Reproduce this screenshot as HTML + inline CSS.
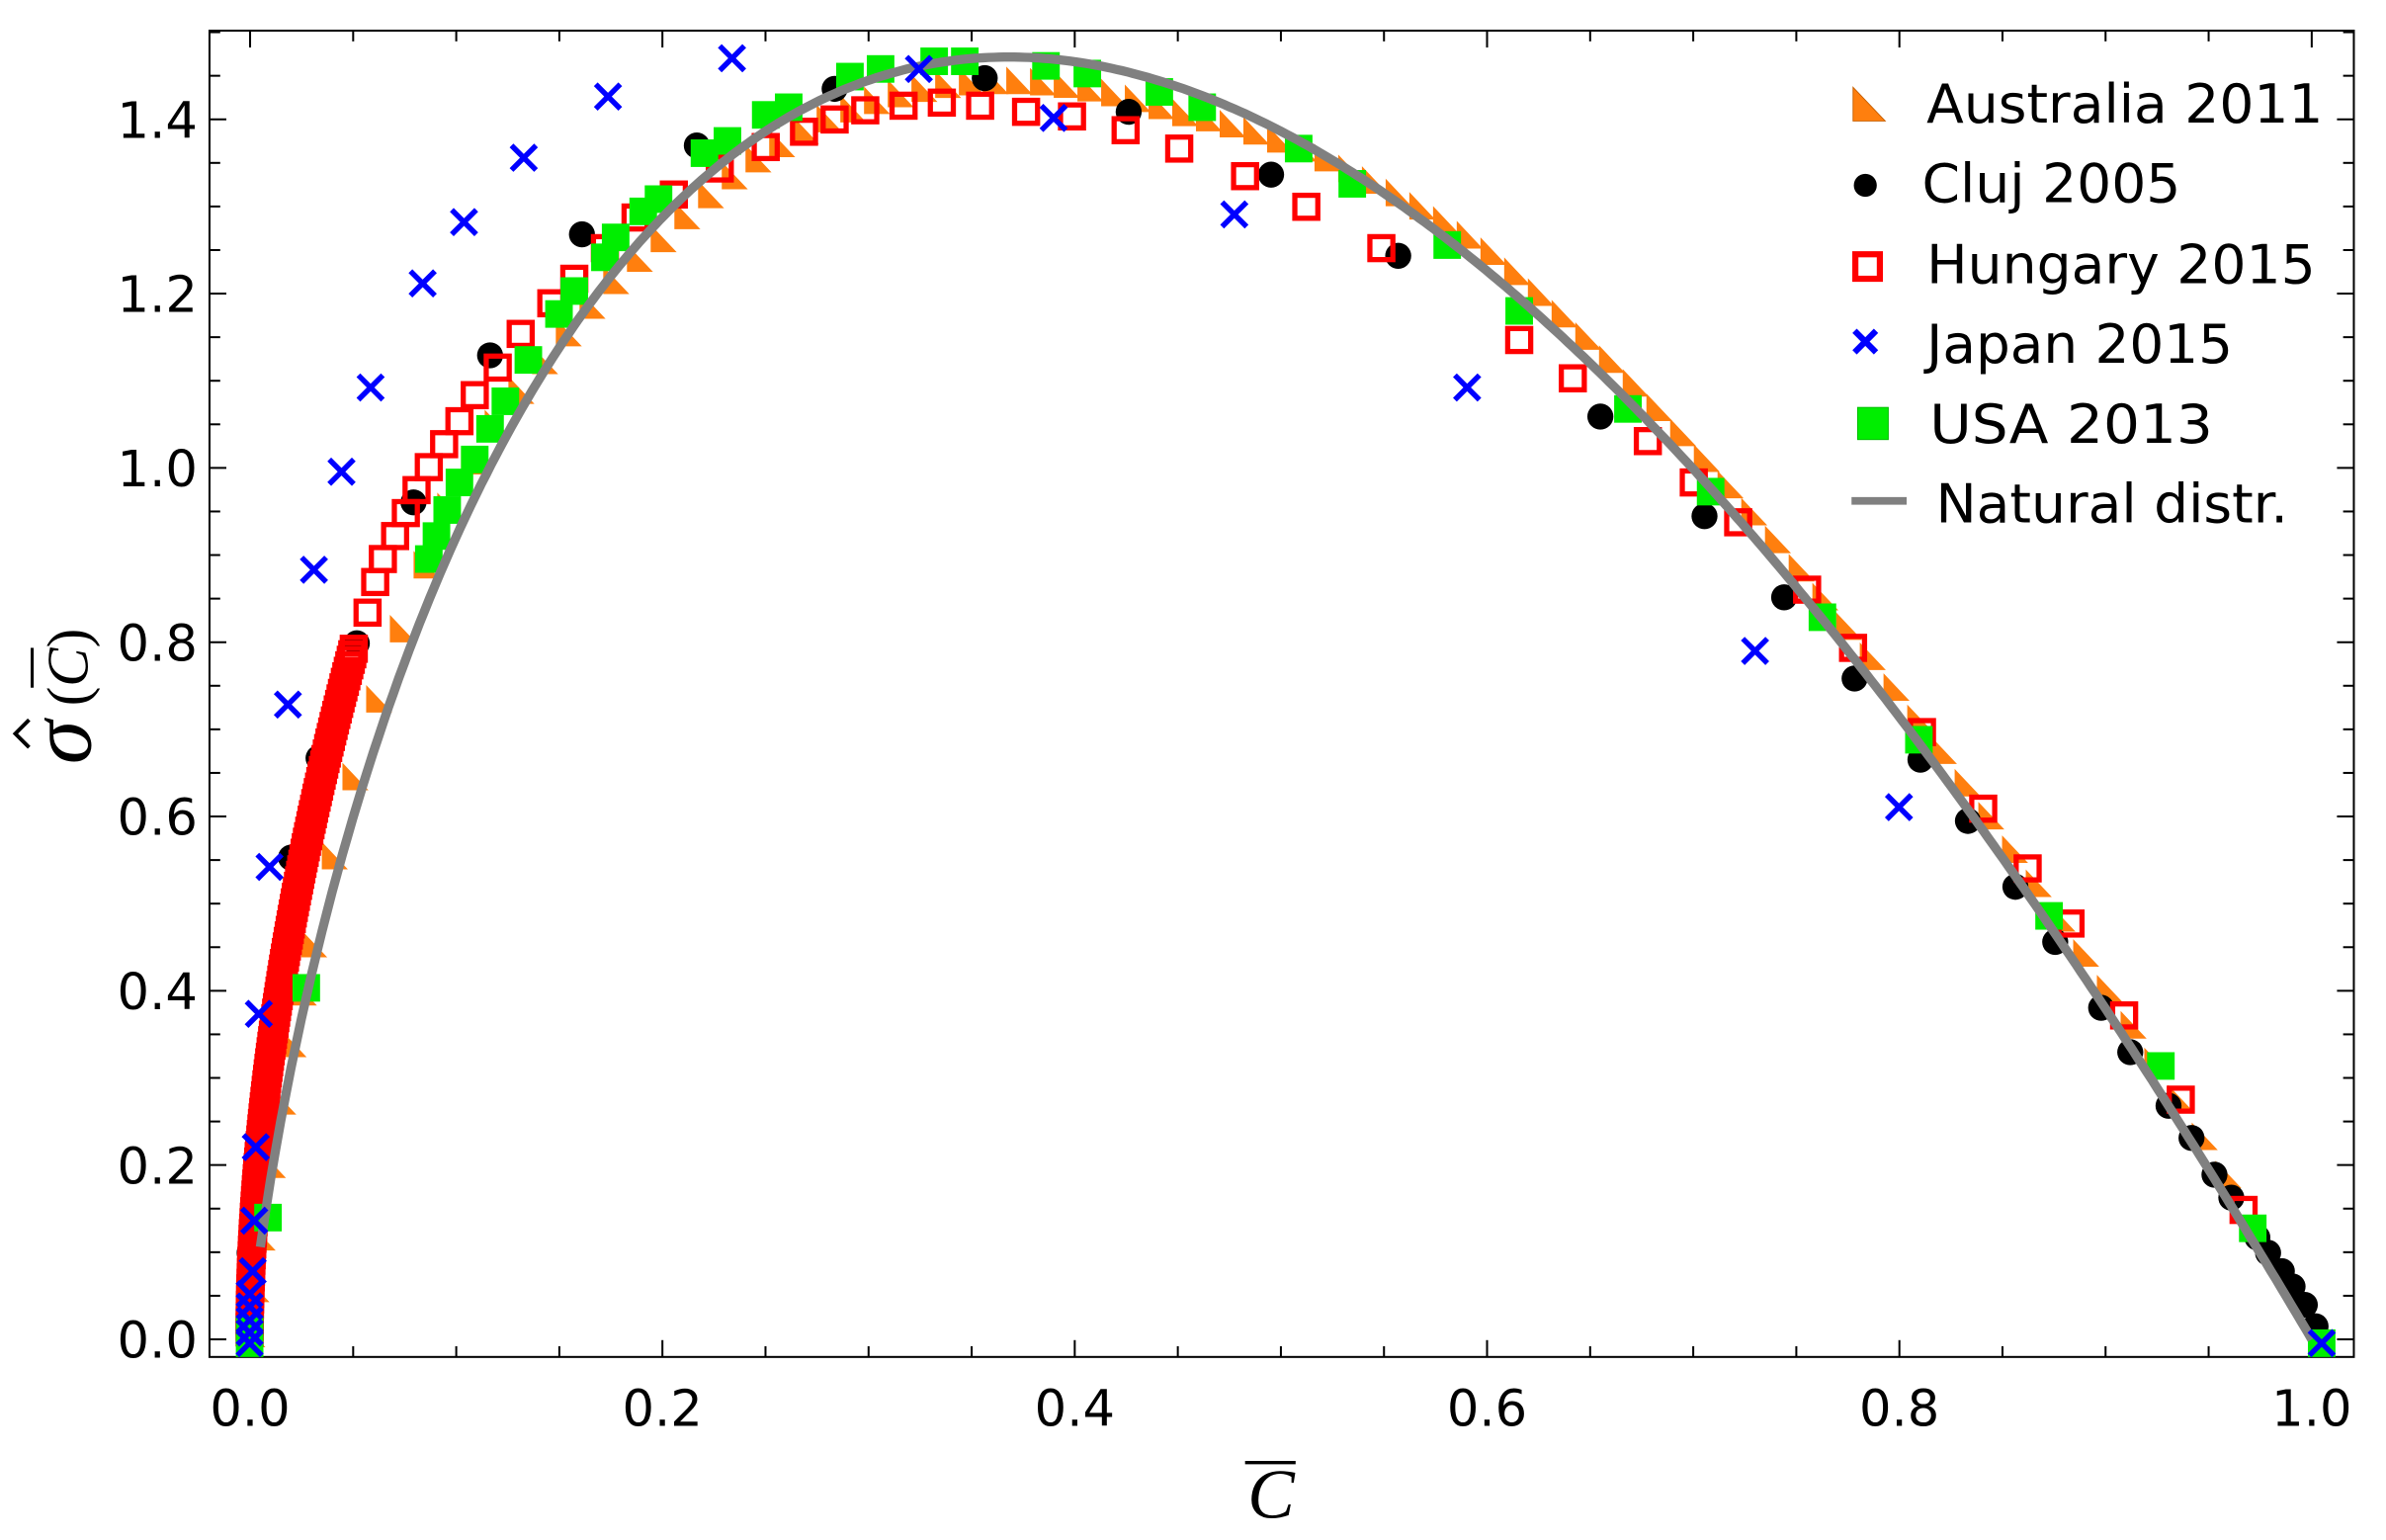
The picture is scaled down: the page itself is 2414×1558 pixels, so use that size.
<!DOCTYPE html>
<html><head><meta charset="utf-8">
<style>html,body{margin:0;padding:0;background:#fff;overflow:hidden}svg{display:block}</style>
</head><body>
<svg id="s" xmlns="http://www.w3.org/2000/svg" width="2414" height="1558" viewBox="0 0 1558 1005.5">
<rect width="1558" height="1005.5" fill="#fff"/>
<g id="ax" stroke="#000" stroke-width="1.3" fill="none"></g>
<g id="data"></g>
<g font-family="'DejaVu Sans','Liberation Sans',sans-serif" font-size="33" fill="#000">
<g text-anchor="end" id="yl"></g>
<g text-anchor="middle" id="xl"></g>
</g>
<text x="830" y="991" font-family="'Liberation Serif',serif" font-style="italic" font-size="46" text-anchor="middle">C</text>
<line x1="813" y1="955" x2="846" y2="955" stroke="#000" stroke-width="2.2"/>
<g transform="translate(59,455) rotate(-90)" font-family="'Liberation Serif',serif">
<text x="-44" y="0" font-style="italic" font-size="58">σ</text>
<polyline points="-33,-40 -24,-49 -15,-40" fill="none" stroke="#000" stroke-width="2.5"/>
<text x="-6" y="-2" font-size="38">(<tspan font-style="italic">C</tspan>)</text>
<line x1="6" y1="-38" x2="32" y2="-38" stroke="#000" stroke-width="2"/>
</g>
<g font-family="'DejaVu Sans','Liberation Sans',sans-serif" font-size="35" fill="#000">
<text x="1258" y="80" textLength="259" lengthAdjust="spacingAndGlyphs">Australia 2011</text>
<text x="1255" y="132" textLength="169" lengthAdjust="spacingAndGlyphs">Cluj 2005</text>
<text x="1258" y="185" textLength="254" lengthAdjust="spacingAndGlyphs">Hungary 2015</text>
<text x="1258" y="237" textLength="200" lengthAdjust="spacingAndGlyphs">Japan 2015</text>
<text x="1260" y="289" textLength="185" lengthAdjust="spacingAndGlyphs">USA 2013</text>
<text x="1264" y="341" textLength="230" lengthAdjust="spacingAndGlyphs">Natural distr.</text>
</g>
<g>
<polygon points="1210,57 1210,79 1231,79" fill="#ff7f0e" stroke="#c65f00" stroke-width="0.6"/>
<circle cx="1218" cy="121" r="7.5" fill="#000"/>
<rect x="1211.5" y="166" width="16" height="16" fill="none" stroke="#f00" stroke-width="4"/>
<g stroke="#00f" stroke-width="4"><line x1="1211" y1="216" x2="1225" y2="230"/><line x1="1225" y1="216" x2="1211" y2="230"/></g>
<rect x="1213" y="266" width="20" height="21" fill="#0e0" stroke="#0b0" stroke-width="0.6"/>
<line x1="1209" y1="327" x2="1245" y2="327" stroke="#808080" stroke-width="5"/>
</g>
</svg>
<script>
const NS="http://www.w3.org/2000/svg";
const X=c=>163.3+1346.2*c, Y=s=>874.5-569*s;
const L=136.8,R=1537,T=20,B=886;
const ax=document.getElementById('ax'),dg=document.getElementById('data');
function el(p,tag,a){const e=document.createElementNS(NS,tag);for(const k in a)e.setAttribute(k,a[k]);p.appendChild(e);return e;}
el(ax,'rect',{x:L,y:T,width:R-L,height:B-T});
for(let i=0;i<=20;i++){const c=i*0.05,x=X(c),len=i%4==0?11:7;
 el(ax,'line',{x1:x,y1:B,x2:x,y2:B-len});el(ax,'line',{x1:x,y1:T,x2:x,y2:T+len});}
for(let i=0;i<=30;i++){const s=i*0.05,y=Y(s);if(y<T)break;const len=i%4==0?11:7;
 el(ax,'line',{x1:L,y1:y,x2:L+len,y2:y});el(ax,'line',{x1:R,y1:y,x2:R-len,y2:y});}
const yl=document.getElementById('yl'),xl=document.getElementById('xl');
for(let i=0;i<=7;i++){const t=el(yl,'text',{x:129,y:Y(i*0.2)+12});t.textContent=(i*0.2).toFixed(1);}
for(let i=0;i<=5;i++){const t=el(xl,'text',{x:X(i*0.2),y:931});t.textContent=(i*0.2).toFixed(1);}
const f=c=>c<=0?0:-4*c*Math.log(c);
// Australia triangles
const kn=[[0,0],[0.02,0.02],[0.05,0.04],[0.1,0.05],[0.15,0],[0.2,-0.03],[0.45,-0.035],[0.6,0.02],[1,0.02]];
const dl=c=>{for(let i=1;i<kn.length;i++){if(c<=kn[i][0]){const [a,b]=kn[i-1],[p,q]=kn[i];return b+(q-b)*(c-a)/(p-a);}}return 0.02;};
const aus=c=>f(c)+dl(c);
let cs=[0,0.002,0.005,0.01,0.015,0.02,0.025,0.03,0.04];for(let c=0.05;c<0.965;c+=0.0115)cs.push(c);
for(const c of cs){const x=X(c),y=Y(aus(c)+0.005);el(dg,'polygon',{points:`${x-7},${y-10} ${x-7},${y+8} ${x+10},${y+8}`,fill:'#ff7f0e'});}
// Cluj
const cl=[[163,818],[190,560],[208,495],[233,420],[270,328],[320,232],[380,153],[455,95],[545,58],[643,51],[737,73],[830,114],[913,167],[1045,272],[1113,337],[1165,390],[1211,443],[1254,496],[1285,536],[1316,579],[1342,615],[1372,658],[1391,687],[1416,722],[1431,743],[1446,767],[1457,782],[1474,808],[1481,818],[1490,830],[1497,840],[1505,852],[1512,866]];
for(const p of cl)el(dg,'circle',{cx:p[0],cy:p[1],r:8.5,fill:'#000'});
// Hungary
const hu=[];
for(let t=0;t<=1;t+=0.008){hu.push([163+69*Math.pow(t,1.8),870-t*450]);}
hu.push(...[[240,400],[245,380],[250,365],[258,350],[265,335],[272,320],[280,305],[290,290],[300,275],[310,258],[325,240],[340,218],[360,198],[375,182],[395,162],[415,142],[440,127],[470,110],[500,96],[525,86],[545,78],[565,72],[590,69],[615,67],[640,69],[670,73],[700,76],[735,85],[770,97],[813,115],[853,135],[902,162],[992,222],[1027,247],[1076,288],[1106,315],[1135,341],[1180,385],[1210,423],[1255,478],[1295,528],[1324,567],[1352,603],[1387,663],[1424,718],[1465,790]]);
for(const p of hu)el(dg,'rect',{x:p[0]-7.5,y:p[1]-7.5,width:15,height:15,fill:'none',stroke:'#f00','stroke-width':3.4});
// USA
const us=[[163,877],[163,868],[175,795],[200,645],[280,365],[285,350],[292,333],[300,315],[310,300],[320,280],[330,262],[345,235],[365,205],[375,190],[395,168],[402,155],[420,138],[430,130],[460,100],[475,92],[500,75],[515,70],[555,50],[575,45],[610,40],[630,40],[683,43],[710,48],[757,60],[785,70],[848,97],[883,120],[945,160],[992,203],[1063,267],[1117,321],[1190,403],[1253,483],[1338,598],[1411,696],[1471,802],[1516,877]];
for(const p of us)el(dg,'rect',{x:p[0]-9,y:p[1]-9,width:18,height:18,fill:'#0e0'});
// Curve
let d='';for(let i=0;i<=400;i++){const c=0.005+i*(0.995/400);d+=(i?'L':'M')+X(c).toFixed(1)+','+Y(f(c)).toFixed(1);}
el(dg,'path',{d:d,fill:'none',stroke:'#808080','stroke-width':6});
// Japan
const jp=[[163,877],[163,870],[163,862],[163,853],[163,845],[165,830],[166,797],[167,749],[169,662],[176,566],[188,460],[205,372],[223,308],[242,253],[276,185],[303,145],[342,103],[397,63],[478,38],[600,45],[688,77],[806,140],[958,253],[1146,425],[1240,527],[1516,877]];
for(const p of jp){const [x,y]=p;const g=el(dg,'g',{stroke:'#00f','stroke-width':3.5});
 el(g,'line',{x1:x-8,y1:y-8,x2:x+8,y2:y+8});el(g,'line',{x1:x+8,y1:y-8,x2:x-8,y2:y+8});}
</script>
</body></html>
